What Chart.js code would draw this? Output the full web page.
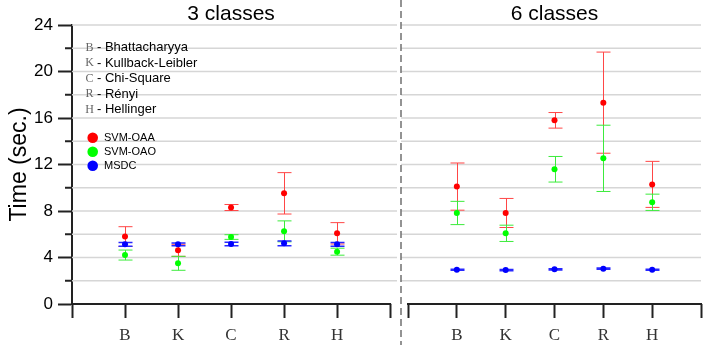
<!DOCTYPE html>
<html>
<head>
<meta charset="utf-8">
<script src="https://cdn.jsdelivr.net/npm/chart.js@4.4.0/dist/chart.umd.min.js"></script>
<style>
  html, body { margin: 0; padding: 0; background: #fff; }
  #wrap { position: relative; width: 709px; height: 345px; }
  #left { position: absolute; left: 0; top: 0; }
  #right { position: absolute; left: 396px; top: 0; }
</style>
</head>
<body>
<div id="wrap">
  <canvas id="left" width="401" height="345"></canvas>
  <canvas id="right" width="313" height="345"></canvas>
</div>
<script>
// categories
const methods = ['B', 'K', 'C', 'R', 'H'];
const methodNames = ['Bhattacharyya', 'Kullback-Leibler', 'Chi-Square', 'Rényi', 'Hellinger'];
const seriesNames = ['SVM-OAA', 'SVM-OAO', 'MSDC'];
const panelTitles = ['3 classes', '6 classes'];

// 3 classes: mean and +/- error
const oaa3 = [5.80, 4.62, 8.30, 9.52, 6.08];
const oaa3Err = [0.85, 0.52, 0.26, 1.78, 0.92];
const oao3 = [4.21, 3.50, 5.76, 6.25, 4.50];
const oao3Err = [0.43, 0.60, 0.20, 0.90, 0.30];
const msdc3 = [5.13, 5.13, 5.16, 5.22, 5.13];
const msdc3Err = [0.17, 0.12, 0.15, 0.20, 0.17];

// 6 classes
const oaa6 = [10.10, 7.83, 15.80, 17.32, 10.29];
const oaa6Err = [2.03, 1.25, 0.67, 4.35, 1.98];
const oao6 = [7.83, 6.08, 11.59, 12.53, 8.75];
const oao6Err = [1.00, 0.70, 1.10, 2.85, 0.70];
const msdc6 = [2.95, 2.92, 2.98, 3.04, 2.95];
const msdc6Err = [0.05, 0.05, 0.05, 0.05, 0.05];

// y axis
const yMin = 0, yMax = 24;
const yTicks = [0, 2, 4, 6, 8, 10, 12, 14, 16, 18, 20, 22, 24];
const xTicks = [0, 1, 2, 3, 4, 5, 6];

const colors = ['#ff0000', '#00ff00', '#0000ff'];
const barColors = ['rgb(255,70,70)', 'rgb(60,235,60)', 'rgb(40,40,255)'];
const letterFont = '"Liberation Serif", "Times New Roman", serif';
const textFont = '"Liberation Sans", Arial, sans-serif';

function pts(arr) {
  return arr.map((v, i) => ({ x: i + 1, y: v }));
}

function makeSets(a, ae, b, be, c, ce) {
  const vals = [a, b, c], errs = [ae, be, ce];
  return seriesNames.map((name, k) => ({
    label: name,
    data: pts(vals[k]),
    errors: errs[k],
    barColor: barColors[k],
    barWidth: k === 2 ? 1.5 : 1,
    backgroundColor: colors[k],
    borderColor: colors[k],
    pointRadius: 3,
    pointBorderWidth: 0,
    order: 3 - k
  }));
}

const errorBars = {
  id: 'errorBars',
  beforeDatasetDraw(chart, args) {
    const ds = chart.data.datasets[args.index];
    const xs = chart.scales.x, ys = chart.scales.y;
    const c = chart.ctx;
    c.save();
    c.strokeStyle = ds.barColor;
    c.lineWidth = ds.barWidth;
    ds.data.forEach((p, i) => {
      const px = Math.round(xs.getPixelForValue(p.x)) + 0.5;
      const top = ys.getPixelForValue(p.y + ds.errors[i]);
      const bot = ys.getPixelForValue(p.y - ds.errors[i]);
      c.beginPath();
      c.moveTo(px, top); c.lineTo(px, bot);
      c.moveTo(px - 7, top); c.lineTo(px + 7, top);
      c.moveTo(px - 7, bot); c.lineTo(px + 7, bot);
      c.stroke();
    });
    c.restore();
  }
};

// horizontal grid, x-axis baseline, panel title, minor y ticks, dashed divider
const decorations = {
  id: 'decorations',
  beforeDatasetsDraw(chart, args, opts) {
    const c = chart.ctx, a = chart.chartArea, ys = chart.scales.y;
    c.save();
    c.strokeStyle = '#d6d6d6';
    c.lineWidth = 1.5;
    yTicks.filter(v => v > 0).forEach(v => {
      const py = ys.getPixelForValue(v);
      c.beginPath();
      c.moveTo(a.left, py); c.lineTo(a.right, py);
      c.stroke();
    });
    if (opts.divider) {
      c.strokeStyle = '#707070';
      c.lineWidth = 1.5;
      c.setLineDash([7, 4]);
      c.beginPath();
      c.moveTo(a.left, 0); c.lineTo(a.left, chart.height);
      c.stroke();
    }
    c.restore();
  },
  afterDraw(chart, args, opts) {
    const c = chart.ctx, a = chart.chartArea;
    const xs = chart.scales.x, ys = chart.scales.y;
    c.save();
    c.strokeStyle = '#222';
    c.lineWidth = 2;
    c.beginPath();
    c.moveTo(xs.getPixelForValue(0) - 1, a.bottom);
    c.lineTo(xs.getPixelForValue(6) + 1, a.bottom);
    c.stroke();
    if (opts.minorTicks) {
      yTicks.filter(v => v % 4 !== 0).forEach(v => {
        const py = ys.getPixelForValue(v);
        c.beginPath();
        c.moveTo(a.left - 7, py); c.lineTo(a.left, py);
        c.stroke();
      });
    }
    c.fillStyle = '#000';
    c.font = '21px ' + textFont;
    c.textAlign = 'center';
    c.textBaseline = 'middle';
    c.fillText(opts.title, xs.getPixelForValue(3), 14.5);
    c.restore();
  }
};

const keyBox = {
  id: 'keyBox',
  afterDraw(chart, args, opts) {
    if (!opts.show) return;
    const c = chart.ctx;
    c.save();
    c.textBaseline = 'middle';
    methods.forEach((m, i) => {
      const y = 47.5 + i * 15.5;
      c.textAlign = 'center';
      c.fillStyle = '#666';
      c.font = '12px ' + letterFont;
      c.fillText(m, 89.5, y);
      c.textAlign = 'left';
      c.fillStyle = '#000';
      c.font = '13px ' + textFont;
      c.fillText('- ' + methodNames[i], 97, y);
    });
    seriesNames.forEach((s, k) => {
      const y = 137.7 + k * 14;
      c.fillStyle = colors[k];
      c.beginPath();
      c.arc(92.7, y, 5.3, 0, Math.PI * 2);
      c.fill();
      c.textAlign = 'left';
      c.fillStyle = '#000';
      c.font = '11px ' + textFont;
      c.fillText(s, 104, y);
    });
    c.restore();
  }
};

function xScale(min, max) {
  return {
    type: 'linear',
    min: min,
    max: max,
    afterBuildTicks: s => { s.ticks = xTicks.map(v => ({ value: v })); },
    ticks: {
      callback: v => methods[v - 1] || '',
      font: { family: letterFont, size: 17 },
      color: '#333',
      padding: 7,
      maxRotation: 0,
      autoSkip: false
    },
    grid: { drawOnChartArea: false, drawTicks: true, tickLength: 14, tickColor: '#222', tickWidth: 2 },
    border: { display: false },
    afterFit: s => { s.height = 41; }
  };
}

new Chart(document.getElementById('left'), {
  type: 'scatter',
  data: { datasets: makeSets(oaa3, oaa3Err, oao3, oao3Err, msdc3, msdc3Err) },
  options: {
    responsive: false,
    animation: false,
    layout: { padding: { top: 25, left: 0, right: 0, bottom: 0 } },
    plugins: {
      legend: { display: false },
      tooltip: { enabled: false },
      decorations: { title: panelTitles[0], minorTicks: true, divider: false },
      keyBox: { show: true }
    },
    scales: {
      x: xScale(0, 6 * 329 / 322),
      y: {
        min: yMin,
        max: yMax,
        afterBuildTicks: s => { s.ticks = yTicks.map(v => ({ value: v })); },
        ticks: {
          callback: v => (v % 4 === 0 ? String(v) : ''),
          font: { family: textFont, size: 17 },
          color: '#000',
          padding: 5,
          autoSkip: false
        },
        grid: {
          drawOnChartArea: false,
          tickLength: 14,
          tickWidth: 2,
          tickColor: ctx => (ctx.tick && ctx.tick.value % 4 === 0 ? '#222' : 'rgba(0,0,0,0)')
        },
        border: { display: true, color: '#222', width: 2 },
        title: {
          display: true,
          text: 'Time (sec.)',
          font: { family: textFont, size: 23 },
          color: '#000',
          padding: { top: 6, bottom: 0 }
        },
        afterFit: s => { s.width = 72; }
      }
    }
  },
  plugins: [errorBars, decorations, keyBox]
});

new Chart(document.getElementById('right'), {
  type: 'scatter',
  data: { datasets: makeSets(oaa6, oaa6Err, oao6, oao6Err, msdc6, msdc6Err) },
  options: {
    responsive: false,
    animation: false,
    layout: { padding: { top: 25, left: 5, right: 8, bottom: 0 } },
    plugins: {
      legend: { display: false },
      tooltip: { enabled: false },
      decorations: { title: panelTitles[1], minorTicks: false, divider: true },
      keyBox: { show: false }
    },
    scales: {
      x: xScale(-42 / 293, 6),
      y: {
        min: yMin,
        max: yMax,
        afterBuildTicks: s => { s.ticks = yTicks.map(v => ({ value: v })); },
        ticks: { display: false },
        grid: { drawOnChartArea: false, drawTicks: false },
        border: { display: false },
        afterFit: s => { s.width = 0; }
      }
    }
  },
  plugins: [errorBars, decorations, keyBox]
});
</script>
</body>
</html>
